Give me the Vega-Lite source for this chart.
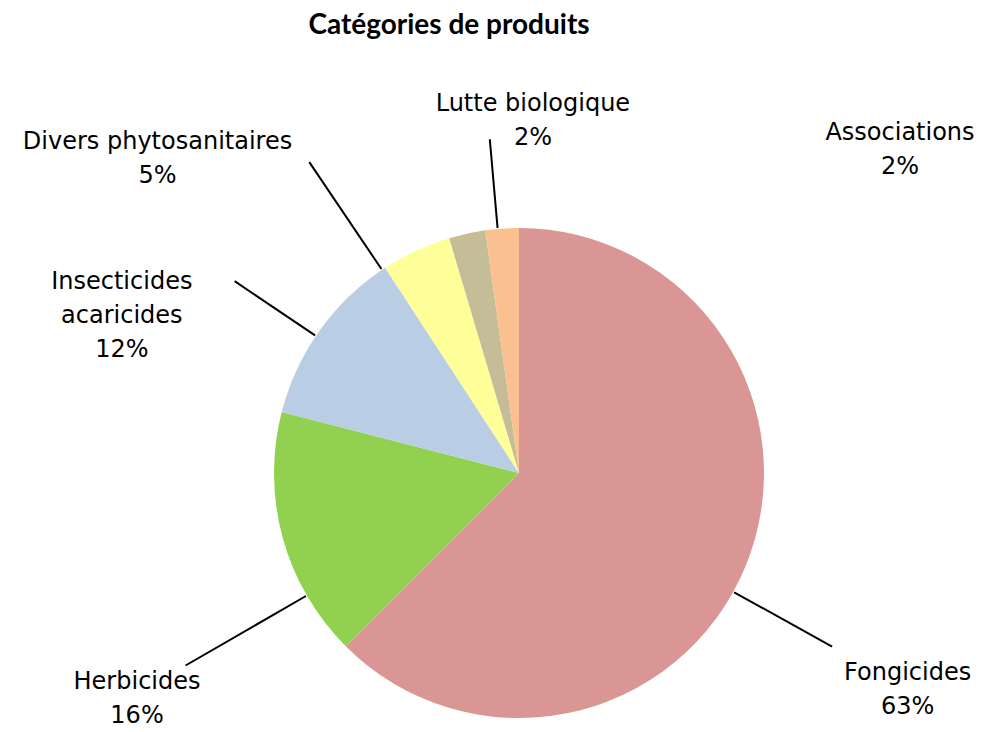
{
  "$schema": "https://vega.github.io/schema/vega-lite/v6.json",
  "width": 928,
  "height": 518,
  "autosize": {"type": "none"},
  "padding": {"left": 55, "top": 214, "right": 0, "bottom": 0},
  "background": "white",
  "title": {"text": "Catégories de produits", "font": "Lato", "fontSize": 28, "fontWeight": "bold", "color": "black", "anchor": "middle", "frame": "group", "dx": -70, "offset": 30, "baseline": "alphabetic"},
  "config": {"view": {"stroke": null}},
  "data": {"values": [
    {"category": "Fongicides", "value": 62.5, "label": "Fongicides\n63%"},
    {"category": "Herbicides", "value": 16.5, "label": "Herbicides\n16%"},
    {"category": "Insecticides acaricides", "value": 11.8, "label": "Insecticides\nacaricides\n12%"},
    {"category": "Divers phytosanitaires", "value": 4.6, "label": "Divers phytosanitaires\n5%"},
    {"category": "Lutte biologique", "value": 2.4, "label": "Lutte biologique\n2%"},
    {"category": "Associations", "value": 2.2, "label": "Associations\n2%"}
  ]},
  "layer": [
    {
      "mark": {"type": "arc", "radius": 245},
      "encoding": {
        "theta": {"field": "value", "type": "quantitative", "stack": true},
        "order": {"field": "value", "sort": "descending"},
        "color": {"field": "category", "type": "nominal", "legend": null,
          "scale": {"domain": ["Fongicides", "Herbicides", "Insecticides acaricides", "Divers phytosanitaires", "Lutte biologique", "Associations"],
                    "range": ["#D99694", "#92D050", "#B9CDE5", "#FFFF99", "#C4BD97", "#FAC090"]}}
      }
    },
    {
      "transform": [{"filter": "datum.category != 'Associations'"}],
      "mark": {"type": "arc", "filled": false, "stroke": "black", "strokeWidth": 2, "radius2": 246},
      "encoding": {
        "theta": {"field": "value", "type": "quantitative", "stack": null,
          "scale": {"type": "linear", "zero": false, "nice": false, "domain": [2.4, 4.6, 11.8, 16.5, 62.5], "range": [6.1959, 5.6898, 5.3058, 4.1888, 2.0769]}},
        "theta2": {"field": "value"},
        "radius": {"field": "value", "type": "quantitative",
          "scale": {"type": "linear", "zero": false, "nice": false, "domain": [2.4, 4.6, 11.8, 16.5, 62.5], "range": [335, 375, 343, 385, 358]}}
      }
    },
    {
      "mark": {"type": "text", "font": "DejaVu Sans", "fontSize": 24, "lineHeight": 34, "lineBreak": "\n", "align": "center", "baseline": "middle", "color": "black"},
      "encoding": {
        "text": {"field": "label"},
        "theta": {"field": "value", "type": "quantitative", "stack": null,
          "scale": {"type": "linear", "zero": false, "nice": false, "domain": [2.2, 2.4, 4.6, 11.8, 16.5, 62.5], "range": [0.8423, 0.0377, 5.4533, 5.1609, 4.2118, 2.0468]}},
        "radius": {"field": "value", "type": "quantitative",
          "scale": {"type": "linear", "zero": false, "nice": false, "domain": [2.2, 2.4, 4.6, 11.8, 16.5, 62.5], "range": [510.6, 369.3, 489.9, 440.8, 435.4, 437.3]}}
      }
    }
  ],
  "resolve": {"scale": {"theta": "independent", "radius": "independent"}}
}
